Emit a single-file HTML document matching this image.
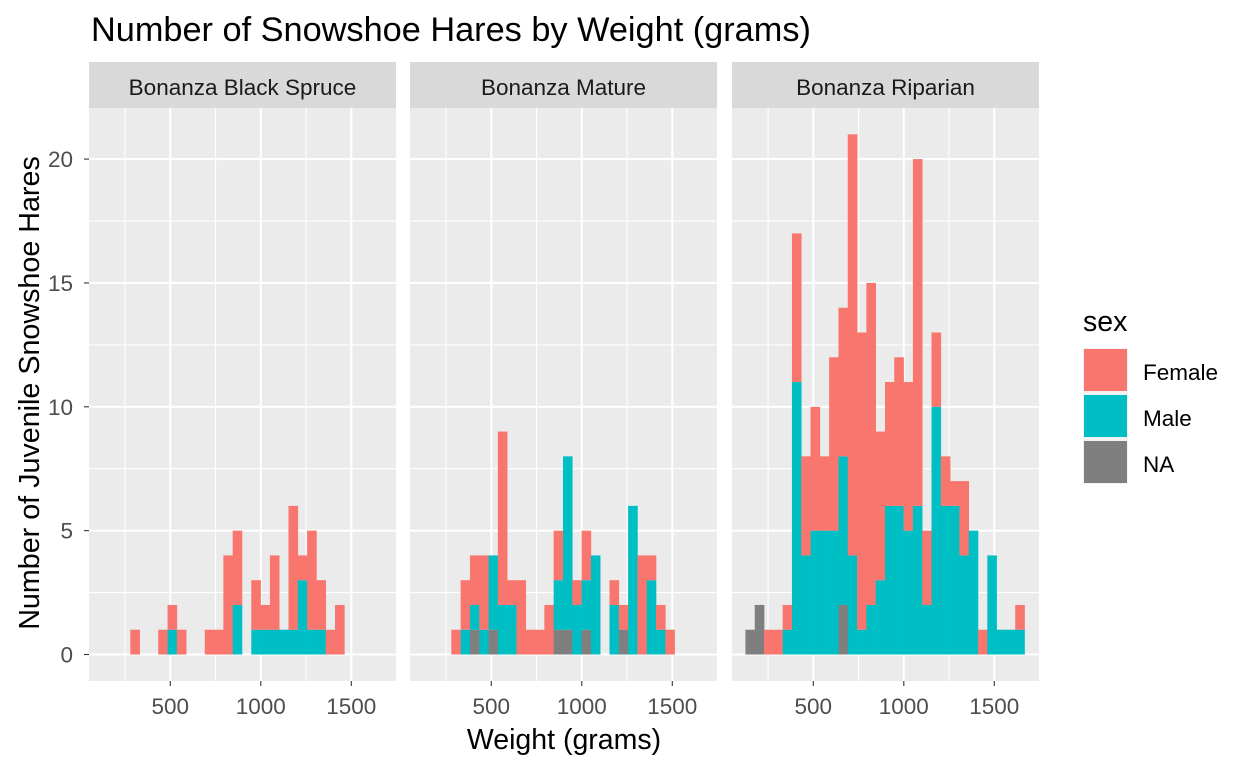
<!DOCTYPE html>
<html><head><meta charset="utf-8"><style>
html,body{margin:0;padding:0;background:#fff;}
svg{display:block;font-family:"Liberation Sans",Arial,sans-serif;}
</style></head><body>
<svg id="chart" width="1248" height="768" viewBox="0 0 1248 768" xmlns="http://www.w3.org/2000/svg">
<text x="91" y="41" font-size="34.3" fill="#000">Number of Snowshoe Hares by Weight (grams)</text>
<text transform="translate(39,393) rotate(-90)" text-anchor="middle" font-size="28.7" fill="#000">Number of Juvenile Snowshoe Hares</text>
<text x="564" y="749" text-anchor="middle" font-size="28.5" fill="#000">Weight (grams)</text>
<g id="panels"></g>
<g>
<text x="1083" y="331" font-size="28.5" fill="#000">sex</text>
<rect x="1083" y="348" width="45" height="136" fill="#f2f2f2"/>
<g><rect x="1084" y="349" width="43" height="42" fill="#F8766D"/><text x="1143" y="380" font-size="22.5" fill="#000">Female</text></g>
<g><rect x="1084" y="395" width="43" height="42" fill="#00BFC4"/><text x="1143" y="426" font-size="22.5" fill="#000">Male</text></g>
<g><rect x="1084" y="441" width="43" height="42" fill="#7F7F7F"/><text x="1143" y="472" font-size="22.5" fill="#000">NA</text></g>
</g>
</svg>
<script>
const panelNames = ["Bonanza Black Spruce","Bonanza Mature","Bonanza Riparian"];
const binStartGrams = 125;
const binWidthGrams = 51.4;
const xTicks = [500,1000,1500];
const xMinor = [250,750,1250];
const yTicks = [0,5,10,15,20];
const yMinor = [2.5,7.5,12.5,17.5];
// counts per bin (30 bins), stacked bottom->top: NA, Male, Female
const naSpruce   = [0,0,0,0,0,0,0,0,0,0,0,0,0,0,0,0,0,0,0,0,0,0,0,0,0,0,0,0,0,0];
const maleSpruce = [0,0,0,0,0,0,0,1,0,0,0,0,0,0,2,0,1,1,1,1,1,3,1,1,0,0,0,0,0,0];
const femSpruce  = [0,0,0,1,0,0,1,1,1,0,0,1,1,4,3,0,2,1,3,0,5,1,4,2,1,2,0,0,0,0];
const naMature   = [0,0,0,0,0,1,0,1,0,0,0,0,0,0,1,1,0,1,0,0,0,1,0,0,0,0,0,0,0,0];
const maleMature = [0,0,0,0,1,1,1,3,2,2,0,0,0,0,2,7,2,2,4,0,2,0,6,0,3,1,0,0,0,0];
const femMature  = [0,0,0,1,2,2,3,0,7,1,3,1,1,2,2,0,1,2,0,0,1,1,0,4,1,1,1,0,0,0];
const naRip      = [1,2,0,0,0,0,0,0,0,0,2,0,0,0,0,0,0,0,0,0,0,0,0,0,0,0,0,0,0,0];
const maleRip    = [0,0,0,0,1,11,4,5,5,5,6,4,1,2,3,6,6,5,6,2,10,6,6,4,5,0,4,1,1,1];
const femRip     = [0,0,1,1,1,6,4,5,3,7,6,17,12,13,6,5,6,6,14,3,3,2,1,3,0,1,0,0,0,1];
const panelSeries = [[naSpruce,maleSpruce,femSpruce],[naMature,maleMature,femMature],[naRip,maleRip,femRip]];
const seriesNames = ["na","male","female"];
const colors = ["#7F7F7F","#00BFC4","#F8766D"];

const NS="http://www.w3.org/2000/svg";
const panelLeft=[89,410,732], panelW=307, plotTop=108, plotBottom=681, stripTop=62;
function xScale(p,g){return panelLeft[p]-9.2+g*0.181;}
function yScale(v){return 654.5-v*24.77;}
function mk(tag,attrs,parent){const e=document.createElementNS(NS,tag);for(const k in attrs)e.setAttribute(k,attrs[k]);parent.appendChild(e);return e;}
const root=document.getElementById('panels');
for(let p=0;p<3;p++){
  const g=mk('g',{},root);
  
  
  const L=panelLeft[p];
  const strip=mk('rect',{x:L,y:stripTop,width:panelW,height:plotTop-stripTop,fill:'#d9d9d9'},g);
  
  
  const st=mk('text',{x:L+panelW/2,y:95,'text-anchor':'middle','font-size':'22.5',fill:'#1a1a1a'},g);
  st.textContent=panelNames[p];
  
  
  mk('rect',{x:L,y:plotTop,width:panelW,height:plotBottom-plotTop,fill:'#ebebeb'},g);
  yMinor.forEach(v=>mk('line',{x1:L,x2:L+panelW,y1:yScale(v),y2:yScale(v),stroke:'#fff','stroke-width':1.1},g));
  xMinor.forEach(v=>mk('line',{x1:xScale(p,v),x2:xScale(p,v),y1:plotTop,y2:plotBottom,stroke:'#fff','stroke-width':1.1},g));
  yTicks.forEach(v=>mk('line',{x1:L,x2:L+panelW,y1:yScale(v),y2:yScale(v),stroke:'#fff','stroke-width':2.1},g));
  xTicks.forEach(v=>mk('line',{x1:xScale(p,v),x2:xScale(p,v),y1:plotTop,y2:plotBottom,stroke:'#fff','stroke-width':2.1},g));
  const ser=panelSeries[p];
  for(let b=0;b<30;b++){
    let base=0;
    for(let s=0;s<3;s++){
      const v=ser[s][b]; if(!v) continue;
      const x0=xScale(p,binStartGrams+b*binWidthGrams), x1=xScale(p,binStartGrams+(b+1)*binWidthGrams);
      const r=mk('rect',{x:x0,y:yScale(base+v),width:x1-x0+0.3,height:yScale(base)-yScale(base+v),fill:colors[s]},g);
      
      
      base+=v;
    }
  }
  xTicks.forEach(v=>{
    mk('line',{x1:xScale(p,v),x2:xScale(p,v),y1:plotBottom,y2:plotBottom+5,stroke:'#333','stroke-width':1.1},g);
    const t=mk('text',{x:xScale(p,v),y:714,'text-anchor':'middle','font-size':'22.5',fill:'#4d4d4d'},g);
    t.textContent=v;
    
    
  });
}
yTicks.forEach(v=>{
  mk('line',{x1:84,x2:89,y1:yScale(v),y2:yScale(v),stroke:'#333','stroke-width':1.1},root);
  const t=mk('text',{x:73,y:yScale(v)+8,'text-anchor':'end','font-size':'22.5',fill:'#4d4d4d'},root);
  t.textContent=v;
  
  
});
</script>
</body></html>
